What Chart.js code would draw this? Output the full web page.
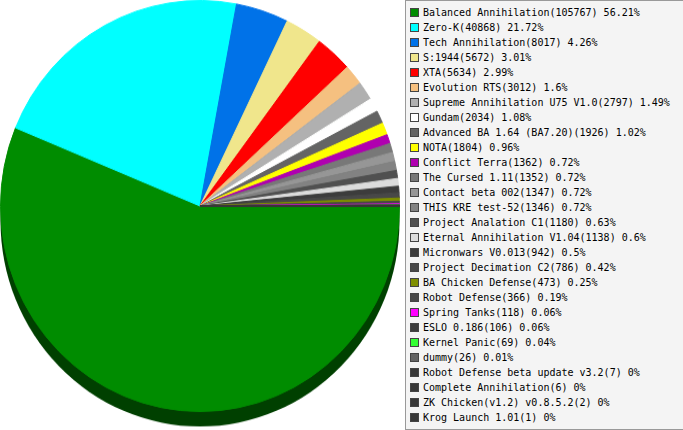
<!DOCTYPE html>
<html>
<head>
<meta charset="utf-8">
<script src="https://cdn.jsdelivr.net/npm/chart.js@4/dist/chart.umd.min.js"></script>
<style>
  body { margin: 0; background: #fff; width: 683px; height: 430px; overflow: hidden; position: relative; }
  #pieBox { position: absolute; left: 0; top: 0; width: 400px; height: 415px; transform: scaleY(1.03); transform-origin: 0 0; }
  #legend { position: absolute; left: 405px; top: 0; width: 300px; height: 428px; border: 1px solid #999; background: #f4f4f4;
            font-family: "DejaVu Sans Mono", monospace; font-size: 10px; color: #000; }
  #legend .row { position: absolute; left: 0; height: 15px; line-height: 15px; white-space: nowrap; }
  #legend .sw { position: absolute; left: 4px; top: 3px; width: 7px; height: 7px; border: 1px solid #444; }
  #legend .txt { position: absolute; left: 17px; top: 0; }
</style>
</head>
<body>
<div id="pieBox"><canvas id="modChart"></canvas></div>
<div id="legend"></div>
<script>
// игры и количество партий
const mods = [
  "Balanced Annihilation", "Zero-K", "Tech Annihilation", "S:1944", "XTA",
  "Evolution RTS", "Supreme Annihilation U75 V1.0", "Gundam", "Advanced BA 1.64 (BA7.20)", "NOTA",
  "Conflict Terra", "The Cursed 1.11", "Contact beta 002", "THIS KRE test-52", "Project Analation C1",
  "Eternal Annihilation V1.04", "Micronwars V0.013", "Project Decimation C2", "BA Chicken Defense", "Robot Defense",
  "Spring Tanks", "ESLO 0.186", "Kernel Panic", "dummy", "Robot Defense beta update v3.2",
  "Complete Annihilation", "ZK Chicken(v1.2) v0.8.5.2", "Krog Launch 1.01"
];
const games = [
  105767, 40868, 8017, 5672, 5634,
  3012, 2797, 2034, 1926, 1804,
  1362, 1352, 1347, 1346, 1180,
  1138, 942, 786, 473, 366,
  118, 106, 69, 26, 7,
  6, 2, 1
];
const colors = [
  "#008c00", "#00ffff", "#0072e8", "#f0e68c", "#ff0000",
  "#f5c080", "#b0b0b0", "#ffffff", "#646464", "#ffff00",
  "#b000b0", "#787878", "#969696", "#828282", "#505050",
  "#dcdcdc", "#3c3c3c", "#484848", "#7f8f00", "#484848",
  "#ff00ff", "#3c3c3c", "#33ff33", "#646464", "#383838",
  "#383838", "#383838", "#383838"
];
const shadowColor = "#004000";

// тень снизу, как у "объёмного" пирога
const pieShadow = {
  id: "pieShadow",
  beforeDatasetsDraw(chart) {
    const arc = chart.getDatasetMeta(0).data[0];
    if (!arc) return;
    const ctx = chart.ctx;
    ctx.save();
    ctx.fillStyle = shadowColor;
    ctx.beginPath();
    ctx.arc(arc.x, arc.y + 14.5, arc.outerRadius, 0, Math.PI * 2);
    ctx.fill();
    ctx.restore();
  }
};

function pct(v, total) {
  return String(Math.round(v / total * 10000) / 100);
}

function drawLegend() {
  const total = games.reduce((a, b) => a + b, 0);
  const box = document.getElementById("legend");
  mods.forEach((name, i) => {
    const row = document.createElement("div");
    row.className = "row";
    row.style.top = (4 + 15 * i) + "px";
    row.innerHTML = `<span class="sw" style="background:${colors[i]}"></span>` +
      `<span class="txt">${name}(${games[i]}) ${pct(games[i], total)}%</span>`;
    box.appendChild(row);
  });
}

function drawChart() {
  const ctx = document.getElementById("modChart").getContext("2d");
  window.modChart = new Chart(ctx, {
    type: "pie",
    data: {
      labels: mods,
      datasets: [{
        data: games,
        backgroundColor: colors,
        borderColor: colors,
        borderWidth: 1
      }]
    },
    options: {
      responsive: true,
      maintainAspectRatio: false,
      animation: false,
      rotation: 90,
      layout: { padding: { top: 0, bottom: 15, left: 0, right: 0 } },
      plugins: { legend: { display: false }, tooltip: { enabled: false } }
    },
    plugins: [pieShadow]
  });
}

document.addEventListener("DOMContentLoaded", () => {
  drawLegend();
  drawChart();
});
</script>
</body>
</html>
